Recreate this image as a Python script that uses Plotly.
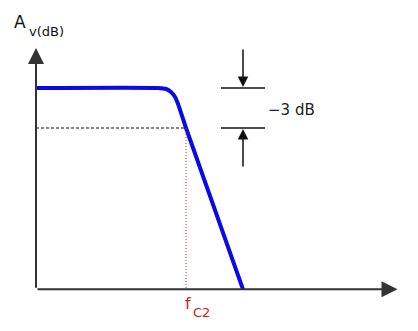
import plotly.graph_objects as go

# ---- data (normalised frequency f/fC2, gain in dB) ----
freq = [0.0, 0.813, 0.867, 0.9, 0.927, 0.947, 1.0, 1.38]
gain_db = [0.0, 0.0, -0.075, -0.3, -0.675, -1.2, -3.0, -15.1]

fc2 = 1.0
cutoff_db = -3.0
axis_floor_db = -15.1
axis_top_db = 3.0
axis_right_f = 2.41
marker_left_f = 1.233
marker_right_f = 1.527
marker_arrow_f = 1.38
marker_arrow_len_db = 3.0

W, H = 418, 331
X_RANGE = [-0.24, 2.5467]
Y_RANGE = [-18.225, 6.6]

def px(x):
    return x / W

def py(y):
    return 1 - y / H

fig = go.Figure()

# response curve
fig.add_trace(go.Scatter(x=freq, y=gain_db, mode="lines",
                         line=dict(color="#0a0ae6", width=4, shape="spline", smoothing=0.5),
                         hoverinfo="skip"))
# -3 dB dashed reference
fig.add_trace(go.Scatter(x=[0, fc2], y=[cutoff_db, cutoff_db], mode="lines",
                         line=dict(color="#111111", width=1, dash="3px,2px"), hoverinfo="skip"))
# fc2 dotted drop line
fig.add_trace(go.Scatter(x=[fc2, fc2], y=[cutoff_db, axis_floor_db], mode="lines",
                         line=dict(color="#cc3333", width=1, dash="1px,2px"), hoverinfo="skip"))
# -3 dB marker bars
for lvl in (0.0, cutoff_db):
    fig.add_trace(go.Scatter(x=[marker_left_f, marker_right_f], y=[lvl, lvl], mode="lines",
                             line=dict(color="#111111", width=1.5), hoverinfo="skip"))

ann = []
axis_col = "#333333"
# y axis with arrow
ann.append(dict(x=0, y=axis_top_db, ax=0, ay=axis_floor_db, xref="x", yref="y", axref="x", ayref="y",
                text="", showarrow=True, arrowhead=2, arrowsize=1.6, arrowwidth=2, arrowcolor=axis_col))
# x axis with arrow
ann.append(dict(x=axis_right_f, y=axis_floor_db, ax=0, ay=axis_floor_db, xref="x", yref="y",
                axref="x", ayref="y", text="", showarrow=True, arrowhead=2, arrowsize=1.6,
                arrowwidth=2, arrowcolor=axis_col))
# -3 dB arrows
ann.append(dict(x=marker_arrow_f, y=0.0, ax=marker_arrow_f, ay=marker_arrow_len_db, xref="x", yref="y",
                axref="x", ayref="y", text="", showarrow=True, arrowhead=2, arrowsize=1.4,
                arrowwidth=1.5, arrowcolor="#111111", standoff=1))
ann.append(dict(x=marker_arrow_f, y=cutoff_db, ax=marker_arrow_f, ay=cutoff_db - marker_arrow_len_db,
                xref="x", yref="y", axref="x", ayref="y", text="", showarrow=True, arrowhead=2,
                arrowsize=1.4, arrowwidth=1.5, arrowcolor="#111111", standoff=1))

font = "DejaVu Sans, Arial, sans-serif"
texts = [
    ("A", 12, 22, 17, "#111111"),
    ("v(dB)", 27, 32, 13, "#111111"),
    ("\u2212" + "3\u00a0dB", 266, 110, 15, "#222222"),
    ("f", 183, 303, 16, "#cc2222"),
    ("C2", 191, 312, 13, "#cc2222"),
]
for t, x, y, s, c in texts:
    ann.append(dict(x=px(x), y=py(y), xref="paper", yref="paper", text=t, showarrow=False,
                    xanchor="left", yanchor="middle", font=dict(family=font, size=s, color=c)))

fig.update_layout(
    width=W, height=H, margin=dict(l=0, r=0, t=0, b=0),
    paper_bgcolor="white", plot_bgcolor="white", showlegend=False,
    xaxis=dict(range=X_RANGE, visible=False, fixedrange=True),
    yaxis=dict(range=Y_RANGE, visible=False, fixedrange=True),
    annotations=ann,
)
fig.write_html("out.html", config={"displayModeBar": False},
               post_script="document.body.style.margin='0';document.body.style.overflow='hidden';")
